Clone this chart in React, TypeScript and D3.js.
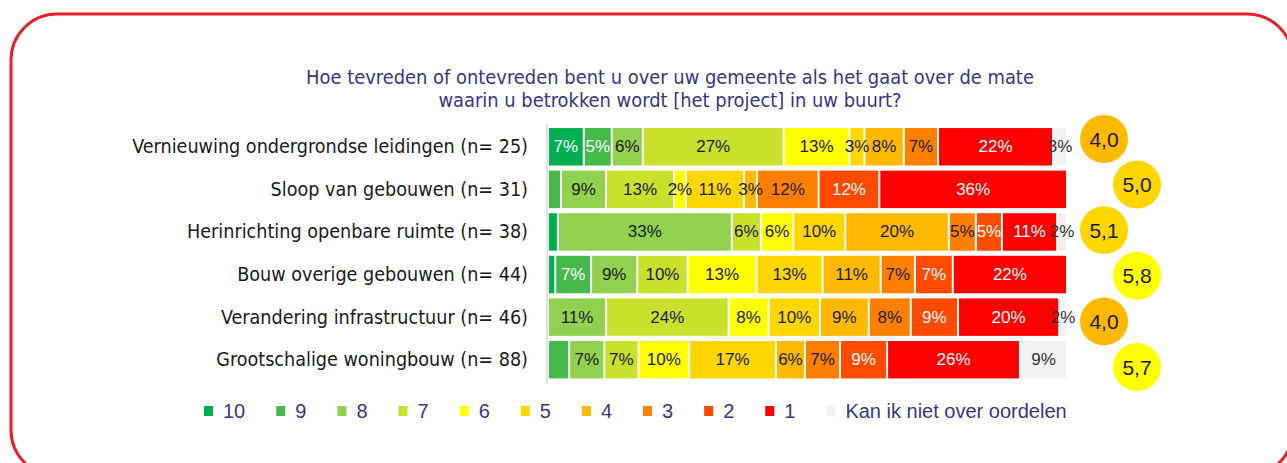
import { useEffect, useRef } from "react"
import * as d3 from "d3"

const categories = [
  "Vernieuwing ondergrondse leidingen (n= 25)",
  "Sloop van gebouwen (n= 31)",
  "Herinrichting openbare ruimte (n= 38)",
  "Bouw overige gebouwen (n= 44)",
  "Verandering infrastructuur (n= 46)",
  "Grootschalige woningbouw (n= 88)",
]

const scoreKeys = ["10", "9", "8", "7", "6", "5", "4", "3", "2", "1", "Kan ik niet over oordelen"]

// percentages per score, one value per category (same order as categories)
const s10 = [6.9, 0, 1.9, 1.4, 0, 0]
const s9 = [5.4, 2.5, 0, 6.9, 0, 4.1]
const s8 = [6.0, 8.7, 33.4, 8.9, 11.2, 6.8]
const s7 = [27.2, 13.1, 5.6, 9.7, 23.6, 6.6]
const s6 = [12.7, 2.3, 6.2, 13.3, 7.7, 9.8]
const s5 = [2.9, 11.2, 10.0, 12.7, 9.9, 16.8]
const s4 = [7.6, 2.5, 19.9, 11.2, 9.4, 5.6]
const s3 = [6.6, 11.9, 5.2, 6.6, 8.1, 6.8]
const s2 = [0, 11.7, 5.0, 7.3, 9.1, 9.1]
const s1 = [22.2, 36.2, 10.6, 22.0, 19.5, 25.7]
const sNvt = [2.7, 0, 1.9, 0, 1.5, 9.1]

const meanScores = [4.0, 5.0, 5.1, 5.8, 4.0, 5.7]

const title = [
  "Hoe tevreden of ontevreden bent u over uw gemeente als het gaat over de mate",
  "waarin u betrokken wordt [het project] in uw buurt?",
]

const colors = ["#00b050", "#45b94a", "#92d050", "#c7e12c", "#ffff00", "#ffd700", "#ffb900", "#ff8000", "#ff4a00", "#ff0000", "#f2f2f2"]

export default function App() {
  const svgRef = useRef(null)
  const width = 1287, height = 463

  useEffect(() => {
    const svg = d3.select(svgRef.current)
    svg.selectAll("*").remove()

    const series = [s10, s9, s8, s7, s6, s5, s4, s3, s2, s1, sNvt]
    const table = categories.map((c, i) => {
      const row: any = { category: c }
      scoreKeys.forEach((k, j) => { row[k] = series[j][i] })
      return row
    })
    const stacked = d3.stack().keys(scoreKeys).offset(d3.stackOffsetExpand)(table)

    const color = d3.scaleOrdinal().domain(scoreKeys).range(colors)
    const x = d3.scaleLinear().domain([0, 1]).range([549, 1068])
    const y = d3.scaleBand().domain(categories).range([125.5, 381]).paddingInner(0.12).paddingOuter(0.06)

    const font = "'Liberation Sans', Arial, sans-serif"
    const labelFont = "'DejaVu Sans Condensed', 'DejaVu Sans', sans-serif"
    const purple = "#3b3486"

    // frame
    svg.append("rect")
      .attr("x", 11).attr("y", 14)
      .attr("width", 1282).attr("height", 462)
      .attr("rx", 46)
      .attr("fill", "none")
      .attr("stroke", "#e8202a")
      .attr("stroke-width", 3)

    // title
    svg.append("g").selectAll("text")
      .data(title)
      .join("text")
        .attr("x", 670)
        .attr("y", (d, i) => 84 + i * 23)
        .attr("text-anchor", "middle")
        .style("font-family", labelFont)
        .style("font-size", "19.9px")
        .attr("fill", purple)
        .text(d => d)

    // axis line
    svg.append("line")
      .attr("x1", 547).attr("x2", 547)
      .attr("y1", 124).attr("y2", 384)
      .attr("stroke", "#d9d9d9")
      .attr("stroke-width", 1.5)

    // category labels
    svg.append("g").selectAll("text")
      .data(categories)
      .join("text")
        .attr("x", 528)
        .attr("y", d => y(d) + y.bandwidth() / 2)
        .attr("text-anchor", "end")
        .attr("dominant-baseline", "central")
        .style("font-family", labelFont)
        .style("font-size", "19.6px")
        .attr("fill", "#1a1a1a")
        .text(d => d)

    // bars
    const layer = svg.append("g").selectAll("g")
      .data(stacked)
      .join("g")
        .attr("fill", d => color(d.key))

    layer.selectAll("rect")
      .data(d => d.filter(p => p[1] - p[0] > 0))
      .join("rect")
        .attr("x", p => x(p[0]))
        .attr("y", p => y(p.data.category))
        .attr("width", p => Math.max(1, x(p[1]) - x(p[0]) - 2))
        .attr("height", y.bandwidth())

    // value labels
    stacked.forEach(s => {
      const light = ["10", "9", "2", "1"].includes(s.key)
      const items = s.filter(p => {
        const v = p.data[s.key]
        if (v <= 0) return false
        if ((s.key === "10" || s.key === "9") && v < 5) return false
        return true
      })
      svg.append("g").selectAll("text")
        .data(items)
        .join("text")
          .attr("x", p => (x(p[0]) + x(p[1])) / 2 - 1)
          .attr("y", p => y(p.data.category) + y.bandwidth() / 2)
          .attr("text-anchor", "middle")
          .attr("dominant-baseline", "central")
          .style("font-family", font)
          .style("font-size", "17px")
          .attr("fill", light ? "#ffffff" : (s.key === scoreKeys[10] ? "#333333" : "#1a1a1a"))
          .text(p => Math.round(p.data[s.key]) + "%")
    })

    // mean score circles
    const cy = d3.scalePoint().domain(categories).range([139, 367])
    const circles = svg.append("g").selectAll("g")
      .data(categories)
      .join("g")
        .attr("transform", (d, i) => `translate(${i % 2 === 0 ? 1104 : 1137},${cy(d)})`)
    circles.append("circle")
      .attr("r", 24)
      .attr("fill", (d, i) => color(String(Math.round(meanScores[i]))))
    circles.append("text")
      .attr("text-anchor", "middle")
      .attr("dominant-baseline", "central")
      .style("font-family", font)
      .style("font-size", "21px")
      .attr("fill", "#1a1a1a")
      .text((d, i) => d3.format(".1f")(meanScores[i]).replace(".", ","))

    // legend
    const legend = svg.append("g").attr("transform", "translate(0,411)")
    let lx = 204
    scoreKeys.forEach(k => {
      legend.append("rect")
        .attr("x", lx).attr("y", -5)
        .attr("width", 9).attr("height", 10)
        .attr("fill", color(k))
      const t = legend.append("text")
        .attr("x", lx + 19)
        .attr("y", 0)
        .attr("dominant-baseline", "central")
        .style("font-family", font)
        .style("font-size", "20px")
        .attr("fill", purple)
        .text(k)
      const w = t.node().getComputedTextLength()
      lx += 19 + w + 31
    })
  }, [])

  return (
    <svg ref={svgRef} width={width} height={height}
      style={{ position: "absolute", left: 0, top: 0, background: "#fff" }} />
  )
}
